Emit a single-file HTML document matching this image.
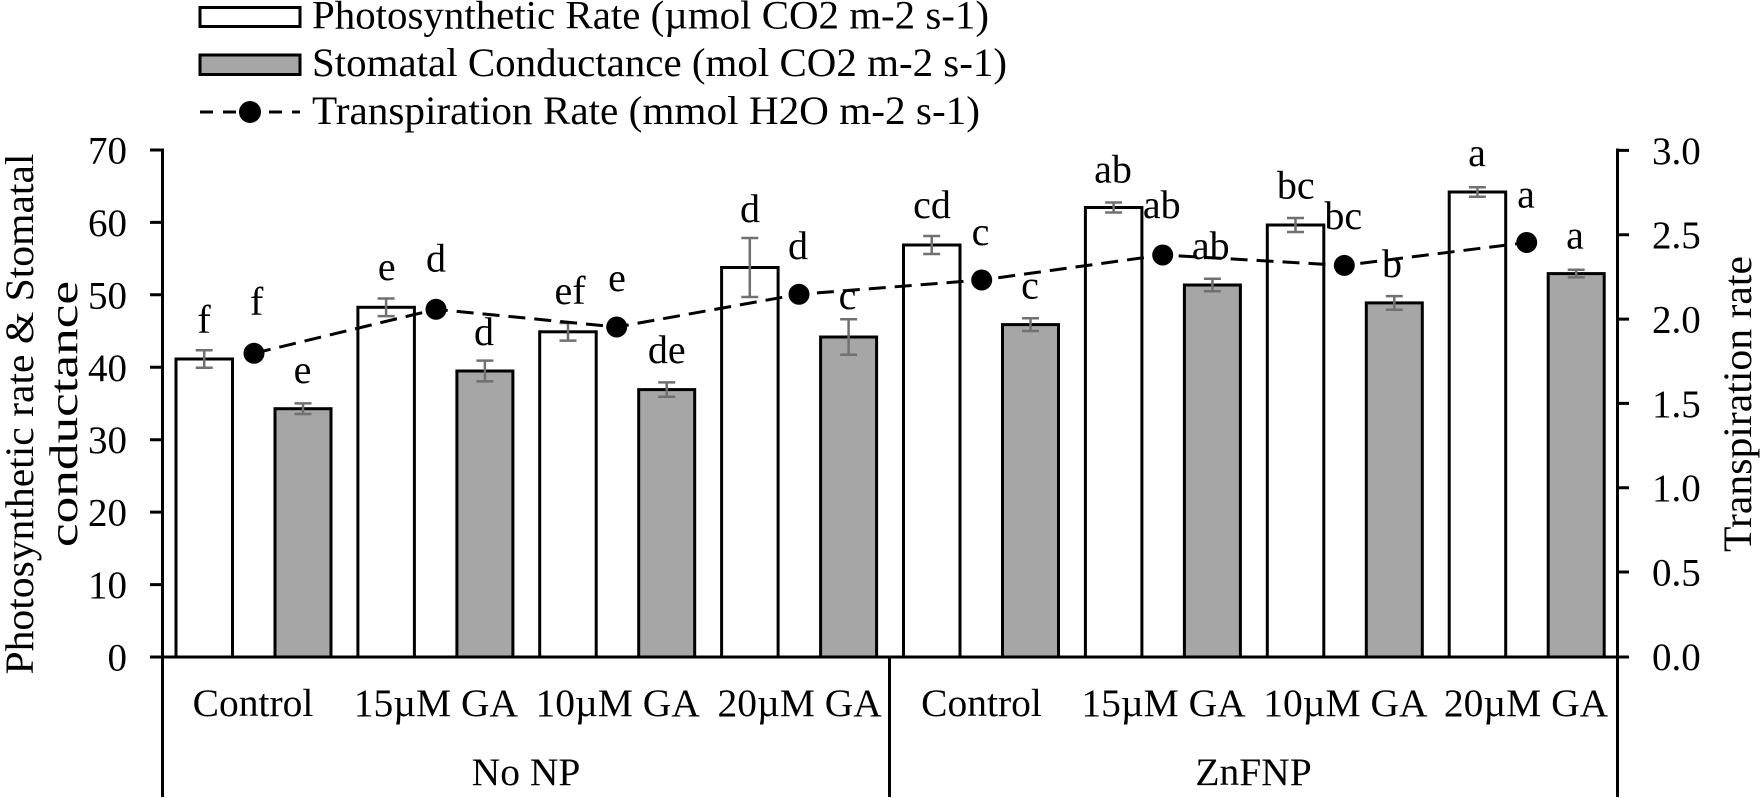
<!DOCTYPE html>
<html>
<head>
<meta charset="utf-8">
<style>
html,body{margin:0;padding:0;background:#fff;}
svg{display:block;}
text{font-family:"Liberation Serif","Times New Roman",serif;fill:#000;}
</style>
</head>
<body>
<svg width="1763" height="798" viewBox="0 0 1763 798" xmlns="http://www.w3.org/2000/svg">
<rect x="0" y="0" width="1763" height="798" fill="#fff"/>

<!-- Legend -->
<rect x="200" y="7.5" width="100" height="19" fill="#fff" stroke="#000" stroke-width="3"/>
<rect x="200" y="55" width="100" height="19.5" fill="#a6a6a6" stroke="#000" stroke-width="3"/>
<line x1="200" y1="112" x2="300" y2="112" stroke="#000" stroke-width="3" stroke-dasharray="13 10"/>
<circle cx="250" cy="112" r="11" fill="#000"/>
<text x="312" y="28.5" font-size="40" textLength="677" lengthAdjust="spacingAndGlyphs">Photosynthetic Rate (µmol CO2 m-2 s-1)</text>
<text x="312" y="76" font-size="40" textLength="695" lengthAdjust="spacingAndGlyphs">Stomatal Conductance (mol CO2 m-2 s-1)</text>
<text x="312" y="124" font-size="40" textLength="668" lengthAdjust="spacingAndGlyphs">Transpiration Rate (mmol H2O m-2 s-1)</text>

<!-- Axis titles -->
<text transform="translate(33,414) rotate(-90)" text-anchor="middle" font-size="40" textLength="521" lengthAdjust="spacingAndGlyphs">Photosynthetic rate &amp; Stomatal</text>
<text transform="translate(77,414) rotate(-90)" text-anchor="middle" font-size="40" textLength="266" lengthAdjust="spacingAndGlyphs">conductance</text>
<text transform="translate(1751,404) rotate(-90)" text-anchor="middle" font-size="40" textLength="296" lengthAdjust="spacingAndGlyphs">Transpiration rate</text>

<!-- Left tick labels -->
<g font-size="39" text-anchor="end">
<text x="127" y="670.5">0</text>
<text x="127" y="598.1">10</text>
<text x="127" y="525.6">20</text>
<text x="127" y="453.2">30</text>
<text x="127" y="380.8">40</text>
<text x="127" y="308.3">50</text>
<text x="127" y="235.9">60</text>
<text x="127" y="163.5">70</text>
</g>
<!-- Right tick labels -->
<g font-size="39" text-anchor="start">
<text x="1652" y="669.9">0.0</text>
<text x="1652" y="585.5">0.5</text>
<text x="1652" y="501.2">1.0</text>
<text x="1652" y="416.9">1.5</text>
<text x="1652" y="332.6">2.0</text>
<text x="1652" y="248.2">2.5</text>
<text x="1652" y="163.9">3.0</text>
</g>

<!-- Bars -->
<g stroke="#000" stroke-width="3">
<rect x="176" y="359" width="56.5" height="298" fill="#fff"/>
<rect x="275" y="408.7" width="56" height="248.3" fill="#a6a6a6"/>
<rect x="357.9" y="307.3" width="56.5" height="349.7" fill="#fff"/>
<rect x="456.9" y="371" width="56" height="286" fill="#a6a6a6"/>
<rect x="539.7" y="331.8" width="56.5" height="325.2" fill="#fff"/>
<rect x="638.7" y="389.6" width="56" height="267.4" fill="#a6a6a6"/>
<rect x="721.6" y="267.5" width="56.5" height="389.5" fill="#fff"/>
<rect x="820.6" y="337" width="56" height="320" fill="#a6a6a6"/>
<rect x="903.5" y="245" width="56.5" height="412" fill="#fff"/>
<rect x="1002.5" y="324.6" width="56" height="332.4" fill="#a6a6a6"/>
<rect x="1085.4" y="207.5" width="56.5" height="449.5" fill="#fff"/>
<rect x="1184.4" y="285" width="56" height="372" fill="#a6a6a6"/>
<rect x="1267.3" y="225" width="56.5" height="432" fill="#fff"/>
<rect x="1366.3" y="302.9" width="56" height="354.1" fill="#a6a6a6"/>
<rect x="1449.2" y="192" width="56.5" height="465" fill="#fff"/>
<rect x="1548.2" y="273.6" width="56" height="383.4" fill="#a6a6a6"/>
</g>

<!-- Error bars -->
<g stroke="#707070" stroke-width="2.5" fill="none">
<path d="M204.2 350.2V367.8M195.7 350.2H212.7M195.7 367.8H212.7"/>
<path d="M303 403.4V414M294.5 403.4H311.5M294.5 414H311.5"/>
<path d="M386.1 298.5V316.1M377.6 298.5H394.6M377.6 316.1H394.6"/>
<path d="M484.9 360.6V381.4M476.4 360.6H493.4M476.4 381.4H493.4"/>
<path d="M568 323V340.6M559.5 323H576.5M559.5 340.6H576.5"/>
<path d="M666.7 382.4V396.8M658.2 382.4H675.2M658.2 396.8H675.2"/>
<path d="M749.8 238V297M741.3 238H758.3M741.3 297H758.3"/>
<path d="M848.6 319.3V354.7M840.1 319.3H857.1M840.1 354.7H857.1"/>
<path d="M931.7 236V254M923.2 236H940.2M923.2 254H940.2"/>
<path d="M1030.5 318.2V331M1022 318.2H1039M1022 331H1039"/>
<path d="M1113.6 202.5V212.5M1105.1 202.5H1122.1M1105.1 212.5H1122.1"/>
<path d="M1212.4 278.8V291.2M1203.9 278.8H1220.9M1203.9 291.2H1220.9"/>
<path d="M1295.5 218V232M1287 218H1304M1287 232H1304"/>
<path d="M1394.3 296.1V309.7M1385.8 296.1H1402.8M1385.8 309.7H1402.8"/>
<path d="M1477.4 187.2V196.8M1468.9 187.2H1485.9M1468.9 196.8H1485.9"/>
<path d="M1576.2 269.8V277.4M1567.7 269.8H1584.7M1567.7 277.4H1584.7"/>
</g>

<!-- Axes -->
<g stroke="#000" stroke-width="3" fill="none">
<line x1="150" y1="657" x2="1629" y2="657"/>
<line x1="162.5" y1="148.5" x2="162.5" y2="797"/>
<line x1="1617.5" y1="148.5" x2="1617.5" y2="797"/>
<line x1="889.5" y1="657" x2="889.5" y2="797"/>
<path d="M150 150H162.5M150 222.4H162.5M150 294.8H162.5M150 367.3H162.5M150 439.7H162.5M150 512.1H162.5M150 584.6H162.5"/>
<path d="M1617.5 150.4H1629M1617.5 234.7H1629M1617.5 319.1H1629M1617.5 403.4H1629M1617.5 487.7H1629M1617.5 572H1629"/>
</g>

<!-- Transpiration line -->
<polyline points="254,353.3 436,309.3 616.7,327 799,294.3 981.7,280 1162.7,255 1344.3,265.4 1526.7,242.5" fill="none" stroke="#000" stroke-width="3" stroke-dasharray="17 9"/>
<g fill="#000">
<circle cx="254" cy="353.3" r="10.5"/>
<circle cx="436" cy="309.3" r="10.5"/>
<circle cx="616.7" cy="327" r="10.5"/>
<circle cx="799" cy="294.3" r="10.5"/>
<circle cx="981.7" cy="280" r="10.5"/>
<circle cx="1162.7" cy="255" r="10.5"/>
<circle cx="1344.3" cy="265.4" r="10.5"/>
<circle cx="1526.7" cy="242.5" r="10.5"/>
</g>

<!-- Significance letters -->
<g font-size="40" text-anchor="middle">
<text x="204" y="333">f</text>
<text x="256.7" y="315">f</text>
<text x="302.5" y="383">e</text>
<text x="386.7" y="280">e</text>
<text x="436" y="271.7">d</text>
<text x="484" y="345">d</text>
<text x="570" y="304">ef</text>
<text x="617" y="291">e</text>
<text x="666.7" y="363">de</text>
<text x="750" y="221.8">d</text>
<text x="798" y="259">d</text>
<text x="847.5" y="309">c</text>
<text x="932" y="218">cd</text>
<text x="980.5" y="245">c</text>
<text x="1030" y="298.6">c</text>
<text x="1113" y="182.5">ab</text>
<text x="1161.7" y="218">ab</text>
<text x="1210.7" y="259">ab</text>
<text x="1295.8" y="198.6">bc</text>
<text x="1343.3" y="229">bc</text>
<text x="1392" y="277">b</text>
<text x="1477" y="166">a</text>
<text x="1526" y="207.5">a</text>
<text x="1575" y="248.6">a</text>
</g>

<!-- Category labels -->
<g font-size="39.5" text-anchor="middle">
<text x="253" y="716">Control</text>
<text x="435.9" y="716">15µM GA</text>
<text x="617.7" y="716">10µM GA</text>
<text x="799.6" y="716">20µM GA</text>
<text x="981.5" y="716">Control</text>
<text x="1163.5" y="716">15µM GA</text>
<text x="1345.4" y="716">10µM GA</text>
<text x="1526" y="716">20µM GA</text>
<text x="526" y="785">No NP</text>
<text x="1253.5" y="785">ZnFNP</text>
</g>
</svg>
</body>
</html>
